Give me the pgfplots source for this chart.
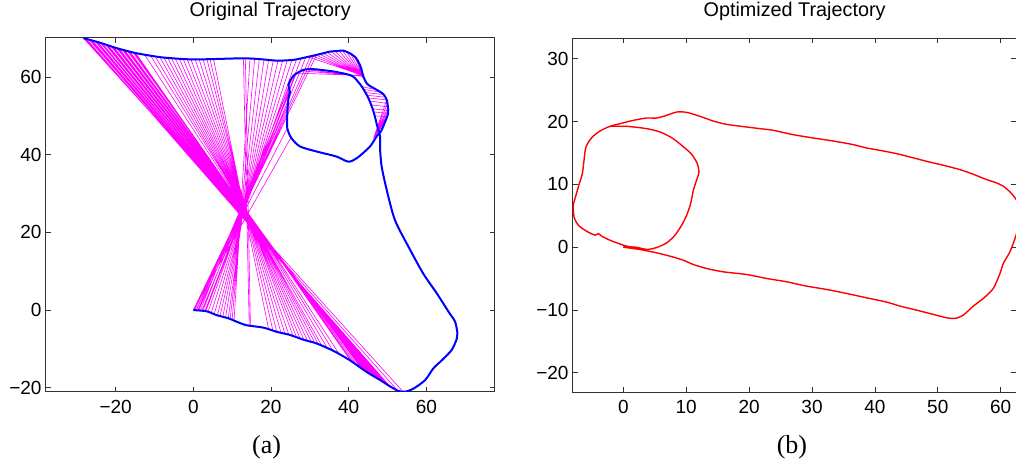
\documentclass[border=0pt]{standalone}
\usepackage{fontspec}
\setmainfont{Liberation Sans}
\newfontfamily\timesfont{Liberation Serif}
\usepackage{pgfplots}
\pgfplotsset{compat=1.18}
\definecolor{mblue}{RGB}{0,0,255}
\definecolor{mmag}{RGB}{255,0,255}
\definecolor{mred}{RGB}{255,0,0}
\pgfplotsset{mstyle/.style={
  scale only axis,
  axis line style={line width=0.9pt, black!80},
  every tick/.style={line width=0.8pt, black!80},
  major tick length=5pt,
  tick align=inside,
  xtick pos=both, ytick pos=both,
  ticklabel style={font=\fontsize{19}{19}\selectfont, inner sep=0pt},
  xticklabel style={yshift=-8pt},
  yticklabel style={xshift=-4pt},
  title style={font=\fontsize{19.8}{20}\selectfont, at={(0.5,1)}, anchor=base, yshift=15pt, inner sep=0pt},
  xlabel style={font=\timesfont\fontsize{26}{26}\selectfont, at={(0.5,0)}, anchor=base, inner sep=0pt},
  unbounded coords=jump,
}}
\begin{document}
\begin{tikzpicture}
\useasboundingbox (0,0) rectangle (1016pt,460pt);
% ---------------- left axis ----------------
\begin{axis}[mstyle, at={(45.7pt,68.3pt)}, anchor=south west,
  width=449pt, height=354pt,
  xmin=-38, xmax=77.6, ymin=-21, ymax=70.1,
  xtick={-20,0,20,40,60}, xticklabels={−20,0,20,40,60},
  ytick={-20,0,20,40,60}, yticklabels={−20,0,20,40,60},
  title={Original Trajectory},
  xlabel={(a)}, xlabel style={xshift=-3.6pt, yshift=-61.3pt}]
\addplot[mmag, line width=0.6pt] coordinates {
(-28.3,70.0) (54.0,-21.0) (nan,nan)
(-27.9,69.9) (52.5,-20.6) (nan,nan)
(-27.5,69.8) (50.6,-19.6) (nan,nan)
(-26.8,69.6) (50.0,-19.2) (nan,nan)
(-26.4,69.5) (49.75,-19.05) (nan,nan)
(-26.0,69.4) (49.5,-18.9) (nan,nan)
(-25.3,69.2) (49.0,-18.6) (nan,nan)
(-24.95,69.1) (48.75,-18.4) (nan,nan)
(-24.6,69.0) (48.5,-18.25) (nan,nan)
(-23.9,68.8) (48.1,-18.0) (nan,nan)
(-23.55,68.6) (47.85,-17.85) (nan,nan)
(-23.2,68.4) (47.6,-17.7) (nan,nan)
(-22.5,68.2) (47.2,-17.4) (nan,nan)
(-22.15,68.1) (47.0,-17.3) (nan,nan)
(-21.8,68.0) (46.8,-17.2) (nan,nan)
(-21.1,67.8) (46.4,-16.9) (nan,nan)
(-20.75,67.7) (46.2,-16.75) (nan,nan)
(-20.4,67.6) (46.0,-16.6) (nan,nan)
(-19.7,67.4) (45.6,-16.4) (nan,nan)
(-19.35,67.3) (45.4,-16.3) (nan,nan)
(-19.0,67.2) (45.2,-16.2) (nan,nan)
(-18.3,67.0) (44.8,-16.0) (nan,nan)
(-17.95,66.9) (44.6,-15.85) (nan,nan)
(-17.6,66.8) (44.4,-15.7) (nan,nan)
(-16.9,66.6) (43.8,-15.3) (nan,nan)
(-16.55,66.5) (43.4,-15.0) (nan,nan)
(-16.2,66.4) (43.0,-14.7) (nan,nan)
(-15.5,66.3) (42.0,-14.0) (nan,nan)
(-15.15,66.2) (41.2,-13.5) (nan,nan)
(-14.8,66.1) (40.5,-13.0) (nan,nan)
(-12.5,65.7) (37.5,-11.2) (nan,nan)
(-11.0,65.5) (36.0,-10.5) (nan,nan)
(-9.8,65.3) (34.5,-9.8) (nan,nan)
(-8.6,65.1) (33.0,-9.0) (nan,nan)
(-7.6,65.0) (32.2,-8.75) (nan,nan)
(-6.6,64.9) (31.3,-8.45) (nan,nan)
(-5.6,64.8) (30.4,-8.2) (nan,nan)
(-4.6,64.7) (29.4,-7.9) (nan,nan)
(-3.6,64.7) (28.5,-7.65) (nan,nan)
(-2.6,64.6) (27.5,-7.3) (nan,nan)
(-1.6,64.6) (26.6,-7.0) (nan,nan)
(-0.6,64.5) (25.7,-6.65) (nan,nan)
(0.5,64.5) (24.6,-6.35) (nan,nan)
(1.5,64.5) (23.6,-6.1) (nan,nan)
(2.5,64.55) (22.6,-5.9) (nan,nan)
(3.5,64.6) (21.5,-5.6) (nan,nan)
(4.3,64.6) (20.5,-5.25) (nan,nan)
(5.2,64.6) (19.4,-4.9) (nan,nan)
(12.9,64.8) (14.4,-3.9) (nan,nan)
(13.4,64.8) (14.7,-4.0) (nan,nan)
(14.6,64.75) (10.5,-2.6) (nan,nan)
(15.8,64.7) (10.0,-2.4) (nan,nan)
(17.0,64.6) (9.5,-2.2) (nan,nan)
(18.2,64.5) (9.0,-2.1) (nan,nan)
(19.4,64.4) (8.3,-1.9) (nan,nan)
(20.6,64.3) (7.6,-1.7) (nan,nan)
(21.8,64.2) (6.9,-1.5) (nan,nan)
(23.0,64.25) (6.2,-1.35) (nan,nan)
(24.2,64.3) (5.4,-1.0) (nan,nan)
(25.4,64.4) (4.6,-0.7) (nan,nan)
(26.6,64.6) (3.8,-0.4) (nan,nan)
(27.8,64.9) (3.0,-0.25) (nan,nan)
(29.0,65.1) (2.2,-0.1) (nan,nan)
(30.2,65.4) (1.4,0) (nan,nan)
(31.0,65.6) (0.7,0) (nan,nan)
(31.8,65.8) (0.0,0) (nan,nan)
(0,0) (25.2,44.5) (nan,nan)
(0,0) (24.3,47) (nan,nan)
(0.3,0) (24.2,50) (nan,nan)
(0.8,0) (24.4,53) (nan,nan)
(1.2,0) (24.6,55.5) (nan,nan)
(1.8,-0.05) (24.7,57.5) (nan,nan)
(2.5,-0.15) (25.3,59.5) (nan,nan)
(3.2,-0.3) (26.5,61) (nan,nan)
(29.5,65.2) (43.0,60.6) (nan,nan)
(30.5,65.5) (43.1,60.5) (nan,nan)
(31.5,65.7) (43.15,60.4) (nan,nan)
(32.5,65.9) (43.2,60.35) (nan,nan)
(33.5,66.1) (43.3,60.3) (nan,nan)
(34.5,66.3) (43.35,60.2) (nan,nan)
(35.5,66.5) (43.4,60.1) (nan,nan)
(36.5,66.6) (43.5,60.0) (nan,nan)
(37.5,66.7) (43.55,59.9) (nan,nan)
(38.5,66.6) (43.6,59.85) (nan,nan)
(39.5,66.4) (43.7,59.8) (nan,nan)
(40.5,66.0) (43.8,59.7) (nan,nan)
(41.5,65.4) (43.85,59.65) (nan,nan)
(42.3,64.5) (43.9,59.6) (nan,nan)
(26.0,61.0) (43.0,60.4) (nan,nan)
(27.5,61.6) (43.1,60.3) (nan,nan)
(29.0,61.9) (43.2,60.2) (nan,nan)
(43.4,57.5) (47.2,56.7) (nan,nan)
(43.8,56.8) (48.0,56.1) (nan,nan)
(44.2,56.0) (48.7,55.5) (nan,nan)
(44.6,55.3) (49.3,54.8) (nan,nan)
(45.0,54.6) (49.8,54.1) (nan,nan)
(45.4,53.8) (50.0,53.2) (nan,nan)
(45.8,52.8) (50.2,52.3) (nan,nan)
(46.1,51.8) (50.2,51.4) (nan,nan)
(46.4,51.0) (50.2,50.6) (nan,nan)
(46.7,50.0) (50.0,49.8) (nan,nan)
(46.4,44.2) (49.8,54.1) (nan,nan)
(46.4,44.2) (50.0,53.2) (nan,nan)
(46.4,44.2) (50.2,52.3) (nan,nan)
(46.4,44.2) (50.2,51.4) (nan,nan)
(46.4,44.2) (50.2,50.6) (nan,nan)
(46.4,44.2) (49.9,49.6) (nan,nan)
(46.4,44.2) (49.4,48.5)
};
\addplot[mblue, line width=2pt, line join=round, smooth, tension=0.45] coordinates {
(0,0) (3.4,-0.3) (6.0,-1.3) (9.0,-2.1) (11.2,-3.0) (13.7,-3.9) (18.0,-4.5)
(21.5,-5.6) (24.9,-6.4) (28.3,-7.6) (31.8,-8.6) (36.1,-10.5) (40.3,-12.9)
(44.6,-15.9) (48.1,-18.0) (50.6,-19.6) (52.8,-20.8) (54.5,-21.0) (56.7,-20.2)
(59.7,-18.0) (61.8,-15.0) (64.0,-12.9) (66.5,-10.3) (67.8,-7.5) (68.0,-6.0)
(67.4,-3.0) (65.7,-0.4) (62.7,4.3) (59.2,9.4) (55.4,16.3) (51.9,23.2)
(49.8,30.9) (48.5,36.9) (48.1,41.2) (47.9,45.5)
(45.5,42.1) (42.1,39.1) (39.9,38.2) (36.9,39.5) (31.8,40.8) (27.5,42.1)
(25.3,44.2) (24.2,46.8) (24.2,50.6) (24.5,54.5) (24.9,56.2) (24.5,57.9)
(25.8,60.3) (28.3,61.8) (30.9,62.0) (36.1,61.4) (40.3,60.5) (41.6,59.7)
(43.4,57.5) (45.1,54.5) (46.4,51.1) (47.4,47.2) (48.0,45.6)
(48.6,46.6) (49.4,48.5) (50.1,50.3) (50.2,51.5) (49.8,54.1) (48.9,55.6)
(47.2,56.7) (45.6,57.6) (44.6,58.4) (43.8,60.1) (43.2,62.3) (42.7,63.5)
(41.8,65.0) (40.3,66.1) (38.5,66.8) (37.3,66.7) (35.0,66.5) (33.5,66.1)
(29.2,65.1) (25.8,64.4) (21.5,64.2) (17.0,64.6) (12.9,64.8) (5.2,64.6)
(0,64.5) (-4.0,64.7) (-8.6,65.1) (-14.6,66.1) (-19.7,67.4) (-24.0,68.8)
(-28.3,70.0)
};
\end{axis}
% ---------------- right axis ----------------
\begin{axis}[mstyle, at={(572.7pt,68pt)}, anchor=south west,
  width=443.7pt, height=354pt,
  xmin=-8.05, xmax=62.5, ymin=-23.05, ymax=33.3,
  xtick={0,10,20,30,40,50,60}, xticklabels={0,10,20,30,40,50,60},
  ytick={-20,-10,0,10,20,30}, yticklabels={−20,−10,0,10,20,30},
  title={Optimized Trajectory},
  xlabel={(b)}, xlabel style={xshift=-2.6pt, yshift=-61pt}]
\addplot[mred, line width=1.4pt, line join=round, smooth, tension=0.45] coordinates {
(0,0) (2.65,-0.37) (5.30,-0.90) (7.42,-1.43) (9.54,-2.07) (11.13,-2.76)
(13.25,-3.39) (15.90,-3.92) (19.61,-4.35) (22.79,-4.98) (25.97,-5.51)
(29.15,-6.20) (32.33,-6.73) (35.51,-7.37) (38.69,-8.06) (41.87,-8.74)
(43.98,-9.38) (46.63,-10.02) (49.28,-10.70) (51.40,-11.23) (52.73,-11.34)
(54.05,-10.81) (55.64,-9.38) (57.23,-8.16) (58.82,-6.57) (59.88,-4.19)
(60.41,-2.60) (61.47,-0.74) (62.27,1.38) (62.80,3.23) (63.06,5.35)
(62.53,7.47) (61.47,8.80) (60.41,9.70) (59.35,10.23) (57.76,10.76)
(55.64,11.61) (53.52,12.35) (50.87,13.04) (48.22,13.67) (45.57,14.36)
(43.45,14.89) (40.81,15.42) (38.69,15.79) (36.57,16.32) (33.39,16.90)
(30.21,17.38) (27.03,17.91) (23.85,18.60) (21.73,18.87) (19.61,19.13)
(16.43,19.55) (14.31,20.08) (12.19,20.83) (10.07,21.46) (8.48,21.52)
(6.89,20.99) (5.30,20.56) (3.71,20.56) (1.59,20.19) (-0.53,19.66)
(-2.12,19.24) (-3.71,18.49) (-5.03,17.43) (-5.94,15.95) (-6.25,13.83)
(-6.52,11.71) (-7.00,10.12) (-7.53,8.27) (-7.95,6.68) (-7.84,4.82)
(-7.15,3.50) (-5.94,2.60) (-4.50,1.91) (-3.97,2.17) (-3.44,1.75)
(-2.12,1.11) (0,0.32) (1.59,-0.05) (3.71,-0.37)
};
\addplot[mred, line width=1.4pt, line join=round, smooth, tension=0.45] coordinates {
(-2.12,19.24) (0.53,19.24) (3.71,18.87) (5.83,18.34) (7.68,17.43)
(9.27,16.22) (10.86,14.79) (11.76,13.30) (12.03,11.98) (11.55,10.39)
(11.13,9.06) (10.70,6.94) (10.07,5.09) (9.27,3.50) (8.21,1.91)
(6.89,0.69) (5.30,-0.05) (3.71,-0.37) (2.0,0.0) (0,0)
};
\end{axis}
\end{tikzpicture}
\end{document}
